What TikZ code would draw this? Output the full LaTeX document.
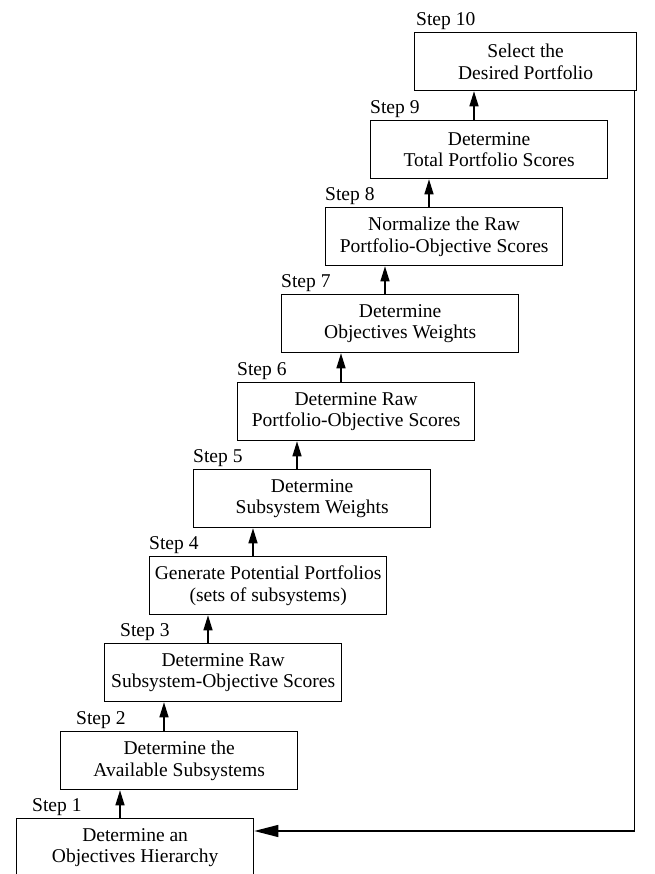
\documentclass[tikz,border=0pt]{standalone}
\usepackage{fontspec}
\setmainfont{Liberation Serif}
\usetikzlibrary{arrows.meta}
\tikzset{
  stepbox/.style={draw, line width=1.3bp, minimum width=237bp, minimum height=58bp,
    align=center, inner sep=2bp, anchor=north west,
    font=\fontsize{19.6}{21.5}\selectfont},
  steplabel/.style={anchor=base west, inner sep=0pt, font=\fontsize{19.6}{21.5}\selectfont},
  uparrow/.style={line width=1.3bp, -{Triangle[length=15bp,width=9bp]}},
  backarrow/.style={line width=1.3bp, -{Triangle[length=24bp,width=12bp]}}
}
\begin{document}
\begin{tikzpicture}[x=1bp,y=1bp]
\useasboundingbox (0,0) rectangle (655,874);
\clip (0,0) rectangle (655,874);
\node[stepbox] (s1) at (16,56) {Determine an\\Objectives Hierarchy};
\node[stepbox] (s2) at (60,143) {Determine the\\Available Subsystems};
\node[stepbox] (s3) at (104,231) {Determine Raw\\Subsystem-Objective Scores};
\node[stepbox] (s4) at (149,318) {Generate Potential Portfolios\\(sets of subsystems)};
\node[stepbox] (s5) at (193,405) {Determine\\Subsystem Weights};
\node[stepbox] (s6) at (237,492) {Determine Raw\\Portfolio-Objective Scores};
\node[stepbox] (s7) at (281,580) {Determine\\Objectives Weights};
\node[stepbox] (s8) at (325,667) {Normalize the Raw\\Portfolio-Objective Scores};
\node[stepbox] (s9) at (370,754) {Determine\\Total Portfolio Scores};
\node[stepbox, minimum width=222bp] (s10) at (414,842) {Select the\\Desired Portfolio};

\node[steplabel, xshift=16bp, yshift=6bp] (l1) at (s1.north west) {Step 1};
\node[steplabel, xshift=16bp, yshift=6bp] (l2) at (s2.north west) {Step 2};
\node[steplabel, xshift=16bp, yshift=6bp] (l3) at (s3.north west) {Step 3};
\node[steplabel, xshift=0bp, yshift=6bp] (l4) at (s4.north west) {Step 4};
\node[steplabel, xshift=0bp, yshift=6bp] (l5) at (s5.north west) {Step 5};
\node[steplabel, xshift=0bp, yshift=6bp] (l6) at (s6.north west) {Step 6};
\node[steplabel, xshift=0bp, yshift=6bp] (l7) at (s7.north west) {Step 7};
\node[steplabel, xshift=0bp, yshift=6bp] (l8) at (s8.north west) {Step 8};
\node[steplabel, xshift=0bp, yshift=6bp] (l9) at (s9.north west) {Step 9};
\node[steplabel, xshift=2bp, yshift=6bp] (l10) at (s10.north west) {Step 10};

\foreach \a/\b in {s1/s2,s2/s3,s3/s4,s4/s5,s5/s6,s6/s7,s7/s8,s8/s9,s9/s10}{
  \draw[uparrow] ([xshift=104bp]\a.north west) -- ([xshift=104bp]\a.north west |- \b.south);
}
\coordinate (fb) at ([xshift=-3bp]s10.south east);
\draw[backarrow] (fb) |- ([yshift=-13bp]s1.north east);
\end{tikzpicture}
\end{document}
